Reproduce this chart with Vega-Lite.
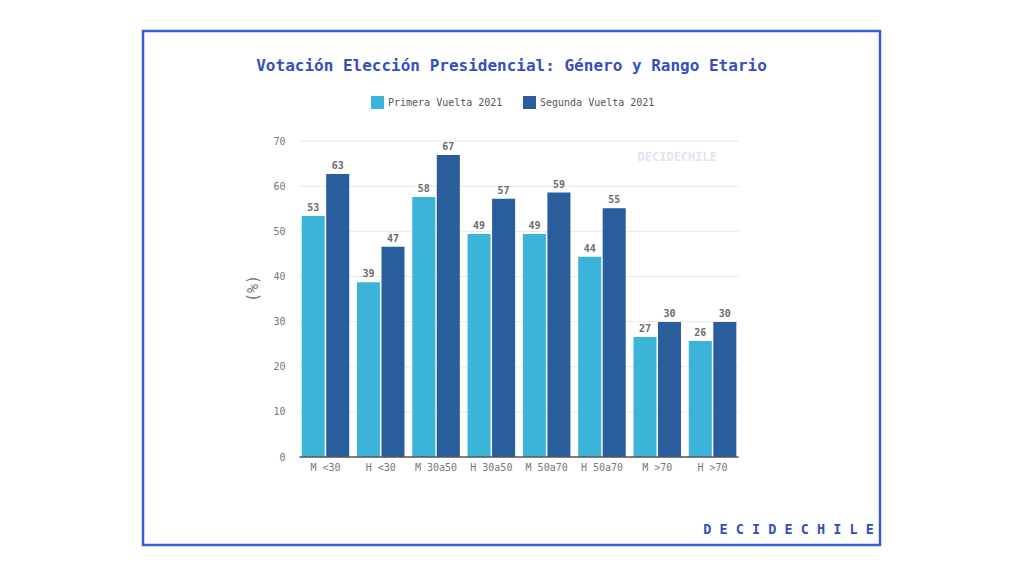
{
  "$schema": "https://vega.github.io/schema/vega-lite/v6.json",
  "autosize": {"type": "none"},
  "padding": {"left": 143, "top": 31, "right": 144, "bottom": 31},
  "width": 737,
  "height": 514,
  "background": "white",
  "title": {
    "text": "Votación Elección Presidencial: Género y Rango Etario",
    "font": "DejaVu Sans Mono",
    "fontSize": 16,
    "fontWeight": "bold",
    "color": "#3450bf",
    "frame": "group",
    "anchor": "middle",
    "baseline": "alphabetic",
    "offset": -56
  },
  "config": {
    "view": {"stroke": "#3a5bd6", "strokeWidth": 2.5},
    "font": "DejaVu Sans Mono"
  },
  "data": {
    "values": [
      {"group": "M <30", "series": "Primera Vuelta 2021", "value": 53.4},
      {"group": "M <30", "series": "Segunda Vuelta 2021", "value": 62.7},
      {"group": "H <30", "series": "Primera Vuelta 2021", "value": 38.7},
      {"group": "H <30", "series": "Segunda Vuelta 2021", "value": 46.6},
      {"group": "M 30a50", "series": "Primera Vuelta 2021", "value": 57.6},
      {"group": "M 30a50", "series": "Segunda Vuelta 2021", "value": 66.9},
      {"group": "H 30a50", "series": "Primera Vuelta 2021", "value": 49.4},
      {"group": "H 30a50", "series": "Segunda Vuelta 2021", "value": 57.2},
      {"group": "M 50a70", "series": "Primera Vuelta 2021", "value": 49.4},
      {"group": "M 50a70", "series": "Segunda Vuelta 2021", "value": 58.6},
      {"group": "H 50a70", "series": "Primera Vuelta 2021", "value": 44.4},
      {"group": "H 50a70", "series": "Segunda Vuelta 2021", "value": 55.1},
      {"group": "M >70", "series": "Primera Vuelta 2021", "value": 26.6},
      {"group": "M >70", "series": "Segunda Vuelta 2021", "value": 29.9},
      {"group": "H >70", "series": "Primera Vuelta 2021", "value": 25.7},
      {"group": "H >70", "series": "Segunda Vuelta 2021", "value": 29.9}
    ]
  },
  "layer": [
    {
      "data": {"values": [{"v": 10}, {"v": 20}, {"v": 30}, {"v": 40}, {"v": 50}, {"v": 60}, {"v": 70}]},
      "mark": {"type": "rule", "color": "#e8e8e8", "strokeWidth": 1, "xOffset": -26, "x2Offset": 26},
      "encoding": {
        "y": {"field": "v", "type": "quantitative", "title": "(%)"},
        "x": {"datum": "M <30", "type": "nominal"},
        "x2": {"datum": "H >70"}
      }
    },
    {
      "mark": {"type": "bar"},
      "encoding": {
        "x": {
          "field": "group",
          "type": "nominal",
          "sort": null,
          "scale": {
            "domain": ["M <30", "H <30", "M 30a50", "H 30a50", "M 50a70", "H 50a70", "M >70", "H >70"],
            "range": [157, 595],
            "paddingInner": 0.14,
            "paddingOuter": 0.03
          },
          "axis": {
            "title": "D E C I D E C H I L E",
            "titleFont": "DejaVu Sans Mono",
            "titleFontSize": 13.5,
            "titleFontWeight": "bold",
            "titleColor": "#2f4fbf",
            "titleX": 645,
            "titleY": 65,
            "titleAlign": "center",
            "offset": -88,
            "labelAngle": 0,
            "labelAlign": "center",
            "labelPadding": 10,
            "labelFontSize": 10,
            "labelColor": "#777777",
            "ticks": false,
            "domain": false,
            "grid": false
          }
        },
        "xOffset": {"field": "series", "type": "nominal", "scale": {"paddingInner": 0.06}},
        "y": {
          "field": "value",
          "type": "quantitative",
          "title": "(%)",
          "scale": {"domain": [-19.5, 94.4], "nice": false, "zero": false},
          "axis": {
            "values": [0, 10, 20, 30, 40, 50, 60, 70],
            "offset": -152,
            "labelPadding": 10,
            "labelFontSize": 10,
            "labelColor": "#777777",
            "ticks": false,
            "domain": false,
            "grid": false,
            "titleFontSize": 15,
            "titleFontWeight": "normal",
            "titleColor": "#777777",
            "titlePadding": 12
          }
        },
        "color": {
          "field": "series",
          "type": "nominal",
          "scale": {"domain": ["Primera Vuelta 2021", "Segunda Vuelta 2021"], "range": ["#3cb4d9", "#2a5d9b"]},
          "legend": {
            "title": null,
            "orient": "none",
            "legendX": 228,
            "legendY": 65,
            "direction": "horizontal",
            "columns": 2,
            "padding": 0,
            "symbolType": "square",
            "symbolSize": 169,
            "symbolStrokeWidth": 0,
            "labelFontSize": 10,
            "labelColor": "#555555",
            "labelOffset": 4,
            "columnPadding": 20,
            "labelLimit": 300
          }
        }
      }
    },
    {
      "mark": {"type": "text", "dy": -8, "fontSize": 10, "color": "#6b6b6b", "fontWeight": "bold"},
      "encoding": {
        "x": {"field": "group", "type": "nominal", "sort": null},
        "xOffset": {"field": "series", "type": "nominal"},
        "y": {"field": "value", "type": "quantitative"},
        "text": {"field": "value", "type": "quantitative", "format": ".0f"}
      }
    },
    {
      "data": {"values": [{}]},
      "mark": {"type": "rule", "color": "#555555", "strokeWidth": 1.5, "xOffset": -26, "x2Offset": 26},
      "encoding": {
        "y": {"datum": 0, "type": "quantitative"},
        "x": {"datum": "M <30", "type": "nominal"},
        "x2": {"datum": "H >70"}
      }
    },
    {
      "data": {"values": [{"t": "DECIDECHILE"}]},
      "mark": {"type": "text", "fontSize": 12, "fontWeight": "bold", "color": "#e1e5ef", "dx": 20},
      "encoding": {
        "x": {"datum": "M >70", "type": "nominal"},
        "y": {"datum": 66.5, "type": "quantitative"},
        "text": {"field": "t"}
      }
    }
  ]
}
